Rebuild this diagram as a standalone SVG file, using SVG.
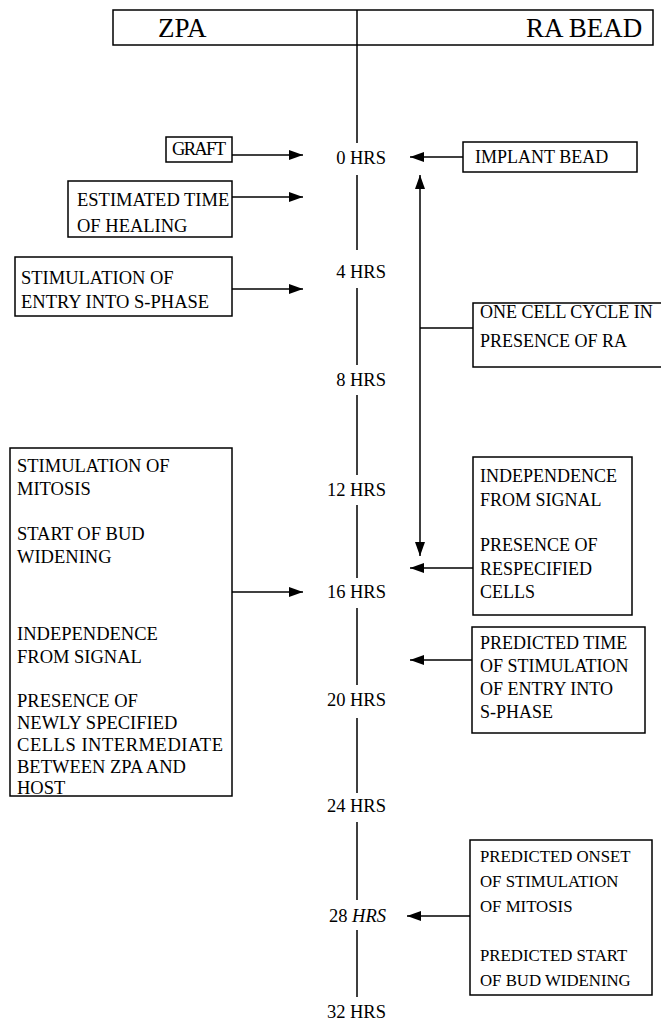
<svg xmlns="http://www.w3.org/2000/svg" width="661" height="1029" viewBox="0 0 661 1029" font-family="'Liberation Serif', 'Times New Roman', serif">
<style>
.box{fill:none;stroke:#000;stroke-width:1.5}
.ln{fill:none;stroke:#000;stroke-width:1.5}
.arr{fill:none;stroke:#000;stroke-width:1.5;marker-end:url(#ah)}
.t{font-family:'Liberation Serif','Times New Roman',serif;fill:#000}
.h{font-size:27px}
.l{font-size:18.5px}
.r{font-size:18px}
.rs{font-size:16.8px}
.tl{font-size:18.5px;text-anchor:end}
</style>
<defs>
<marker id="ah" viewBox="0 0 14 10" refX="14" refY="5" markerWidth="14" markerHeight="10" markerUnits="userSpaceOnUse" orient="auto-start-reverse">
<path d="M0,0 L14,5 L0,10 Z" fill="#000"/>
</marker>
</defs>
<rect width="661" height="1029" fill="#fff"/>

<g id="header">
<rect class="box" x="113" y="10" width="540" height="35"/>
<text class="t h" x="158" y="37">ZPA</text>
<text class="t h" x="526" y="37" font-size="26">RA BEAD</text>
</g>

<g id="timeline-labels">
<text class="t tl" x="386" y="164">0 HRS</text>
<text class="t tl" x="386" y="278">4 HRS</text>
<text class="t tl" x="386" y="386">8 HRS</text>
<text class="t tl" x="386" y="496">12 HRS</text>
<text class="t tl" x="386" y="598">16 HRS</text>
<text class="t tl" x="386" y="706">20 HRS</text>
<text class="t tl" x="386" y="812">24 HRS</text>
<text class="t tl" x="386" y="922">28 <tspan font-style="italic">HRS</tspan></text>
<text class="t tl" x="386" y="1018">32 HRS</text>
</g>

<g id="graft">
<rect class="box" x="166" y="137" width="66" height="25"/>
<text class="t l" x="172" y="155" font-size="17" textLength="54">GRAFT</text>
</g>

<g id="implant-bead">
<rect class="box" x="463" y="142" width="174" height="30"/>
<text class="t r" x="475" y="163" font-size="19.5">IMPLANT BEAD</text>
</g>

<g id="healing">
<rect class="box" x="68" y="181" width="164" height="56"/>
<text class="t l" x="77" y="206">ESTIMATED TIME</text>
<text class="t l" x="77" y="232">OF HEALING</text>
</g>

<g id="s-phase">
<rect class="box" x="15" y="257" width="217" height="59"/>
<text class="t l" x="21" y="284">STIMULATION OF</text>
<text class="t l" x="21" y="308">ENTRY INTO S-PHASE</text>
</g>

<g id="cell-cycle">
<rect class="box" x="473" y="303" width="200" height="64"/>
<text class="t r" x="480" y="318">ONE CELL CYCLE IN</text>
<text class="t r" x="480" y="347">PRESENCE OF RA</text>
</g>

<g id="zpa-16h">
<rect class="box" x="10" y="448" width="222" height="348"/>
<text class="t l" x="17" y="472">STIMULATION OF</text>
<text class="t l" x="17" y="495">MITOSIS</text>
<text class="t l" x="17" y="540">START OF BUD</text>
<text class="t l" x="17" y="563">WIDENING</text>
<text class="t l" x="17" y="640">INDEPENDENCE</text>
<text class="t l" x="17" y="663">FROM SIGNAL</text>
<text class="t l" x="17" y="707">PRESENCE OF</text>
<text class="t l" x="17" y="729">NEWLY SPECIFIED</text>
<text class="t l" x="17" y="751" textLength="206">CELLS INTERMEDIATE</text>
<text class="t l" x="17" y="773">BETWEEN ZPA AND</text>
<text class="t l" x="17" y="794">HOST</text>
</g>

<g id="respecified">
<rect class="box" x="473" y="457" width="159" height="158"/>
<text class="t r" x="480" y="482">INDEPENDENCE</text>
<text class="t r" x="480" y="506">FROM SIGNAL</text>
<text class="t r" x="480" y="551">PRESENCE OF</text>
<text class="t r" x="480" y="575">RESPECIFIED</text>
<text class="t r" x="480" y="598">CELLS</text>
</g>

<g id="predicted-s-phase">
<rect class="box" x="472" y="627" width="173" height="106"/>
<text class="t r" x="480" y="649">PREDICTED TIME</text>
<text class="t r" x="480" y="672">OF STIMULATION</text>
<text class="t r" x="480" y="695">OF ENTRY INTO</text>
<text class="t r" x="480" y="718">S-PHASE</text>
</g>

<g id="predicted-mitosis">
<rect class="box" x="470" y="840" width="182" height="155"/>
<text class="t rs" x="480" y="862">PREDICTED ONSET</text>
<text class="t rs" x="480" y="887">OF STIMULATION</text>
<text class="t rs" x="480" y="912">OF MITOSIS</text>
<text class="t rs" x="480" y="961">PREDICTED START</text>
<text class="t rs" x="480" y="986">OF BUD WIDENING</text>
</g>

<g id="connectors">
<path class="ln" d="M357,10 V143 M357,175 V250 M357,288 V365 M357,395 V475 M357,505 V578 M357,608 V685 M357,718 V793 M357,822 V900 M357,930 V997"/>
<line class="arr" x1="232" y1="155" x2="303" y2="155"/>
<line class="arr" x1="232" y1="197" x2="303" y2="197"/>
<line class="arr" x1="232" y1="289" x2="303" y2="289"/>
<line class="arr" x1="232" y1="592" x2="303" y2="592"/>
<line class="arr" x1="463" y1="157" x2="410" y2="157"/>
<line class="arr" x1="420" y1="175" x2="420" y2="556" style="marker-start:url(#ah)"/>
<line class="ln" x1="420" y1="328" x2="473" y2="328"/>
<line class="arr" x1="473" y1="568" x2="410" y2="568"/>
<line class="arr" x1="472" y1="660" x2="410" y2="660"/>
<line class="arr" x1="470" y1="916" x2="407" y2="916"/>
</g>
</svg>
